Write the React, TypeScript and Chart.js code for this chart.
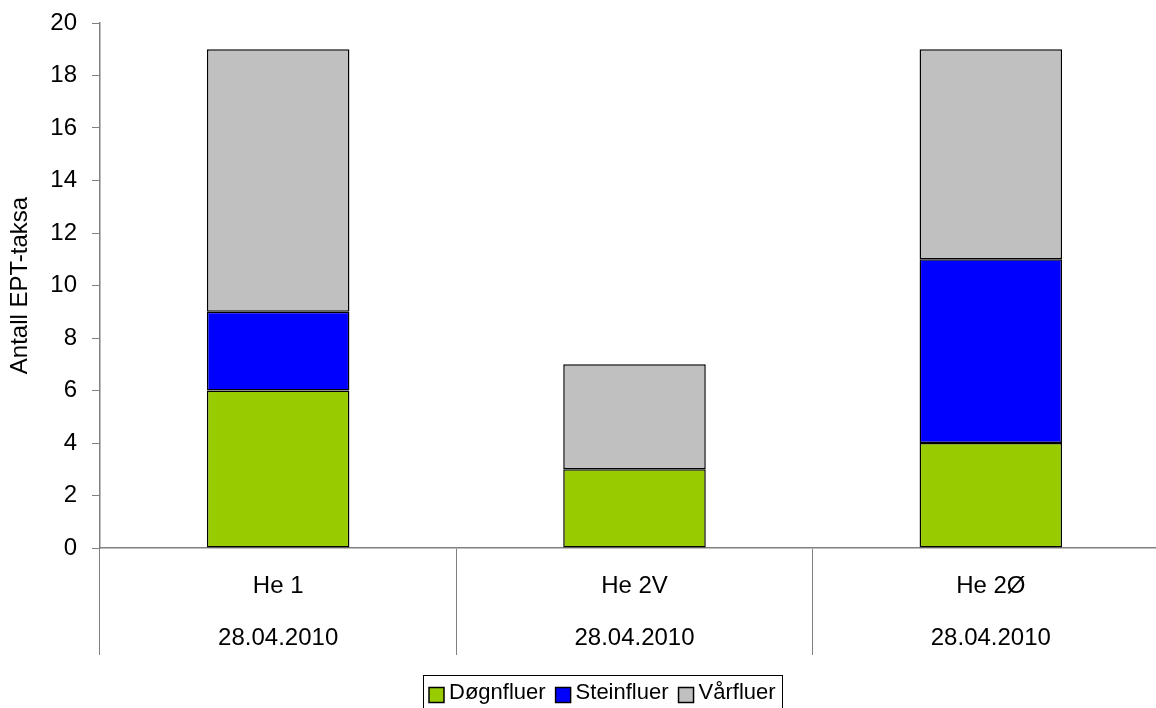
import React, { useEffect, useRef } from "react";
import { Chart, registerables } from "chart.js";

Chart.register(...registerables);

const categories: string[][] = [
  ["He 1", "28.04.2010"],
  ["He 2V", "28.04.2010"],
  ["He 2Ø", "28.04.2010"],
];
const seriesNames = ["Døgnfluer", "Steinfluer", "Vårfluer"];
const dognfluer = [6, 3, 4];
const steinfluer = [3, 0, 7];
const varfluer = [10, 4, 8];
const seriesColors = ["#99CC00", "#0000FF", "#C0C0C0"];
const yMin = 0;
const yMax = 20;
const yStep = 2;
const yTitle = "Antall EPT-taksa";

const FONT = '"Liberation Sans", Arial, sans-serif';

const boxLegend = {
  id: "boxLegend",
  afterDraw(chart: any) {
    const ctx = chart.ctx as CanvasRenderingContext2D;
    ctx.save();
    ctx.font = `22px ${FONT}`;
    ctx.textBaseline = "middle";
    ctx.textAlign = "left";
    const items = chart.data.datasets.map((ds: any) => ({
      text: ds.label as string,
      color: ds.backgroundColor as string,
    }));
    const box = 15;
    const gap = 5;
    const itemGap = 10;
    const padX = 6;
    const widths = items.map((it: any) => ctx.measureText(it.text).width);
    let total = padX * 2 + itemGap * (items.length - 1);
    widths.forEach((w: number) => (total += box + gap + w));
    const centerX = 602;
    const top = 675;
    const cy = 693;
    const x0 = Math.round(centerX - total / 2);
    ctx.strokeStyle = "#000";
    ctx.lineWidth = 1;
    ctx.strokeRect(x0 + 0.5, top + 0.5, Math.round(total), 60);
    let x = x0 + padX;
    items.forEach((it: any, i: number) => {
      ctx.fillStyle = it.color;
      ctx.fillRect(x, cy - box / 2 + 2, box, box);
      ctx.strokeStyle = "#000";
      ctx.lineWidth = 1.5;
      ctx.strokeRect(x, cy - box / 2 + 2, box, box);
      x += box + gap;
      ctx.fillStyle = "#000";
      ctx.fillText(it.text, x, cy);
      x += widths[i] + itemGap;
    });
    ctx.restore();
  },
};

export default function App() {
  const ref = useRef<HTMLCanvasElement | null>(null);

  useEffect(() => {
    if (!ref.current) return;
    const seriesData = [dognfluer, steinfluer, varfluer];
    const chart = new Chart(ref.current, {
      type: "bar",
      data: {
        labels: categories,
        datasets: seriesNames.map((name, i) => ({
          label: name,
          data: seriesData[i],
          backgroundColor: seriesColors[i],
          borderColor: "#000",
          borderWidth: 1.5,
          borderSkipped: false,
          barPercentage: 0.4,
          categoryPercentage: 1,
        })),
      },
      options: {
        responsive: false,
        animation: false,
        devicePixelRatio: 1,
        layout: { padding: { top: 23, right: 11, bottom: 0, left: 0 } },
        plugins: {
          legend: { display: false },
          tooltip: { enabled: false },
        },
        scales: {
          x: {
            stacked: true,
            offset: true,
            grid: {
              offset: true,
              drawOnChartArea: false,
              drawTicks: true,
              tickLength: 107,
              color: "#808080",
              lineWidth: 1,
            },
            border: { display: true, color: "#808080", width: 1.5 },
            ticks: {
              color: "#000",
              font: { family: FONT, size: 24, lineHeight: 52 / 24 },
              padding: -95,
              maxRotation: 0,
              autoSkip: false,
            },
            afterFit(scale: any) {
              scale.height = 160;
              scale.paddingLeft = 0;
              scale.paddingRight = 0;
            },
          },
          y: {
            stacked: true,
            min: yMin,
            max: yMax,
            grid: {
              drawOnChartArea: false,
              drawTicks: true,
              tickLength: 8,
              color: "#808080",
              lineWidth: 1,
            },
            border: { display: true, color: "#808080", width: 1.5 },
            ticks: {
              stepSize: yStep,
              color: "#000",
              font: { family: FONT, size: 24 },
              padding: 15,
            },
            title: {
              display: true,
              text: yTitle,
              color: "#000",
              font: { family: FONT, size: 24 },
              padding: { top: 6, bottom: 0 },
            },
            afterFit(scale: any) {
              scale.width = 100;
              scale.paddingTop = 0;
              scale.paddingBottom = 0;
            },
          },
        },
      },
      plugins: [boxLegend],
    });
    return () => chart.destroy();
  }, []);

  return (
    <div
      style={{
        position: "absolute",
        left: 0,
        top: 0,
        width: 1156,
        height: 708,
        overflow: "hidden",
        background: "#fff",
      }}
    >
      <canvas ref={ref} width={1180} height={708} style={{ display: "block" }} />
    </div>
  );
}
